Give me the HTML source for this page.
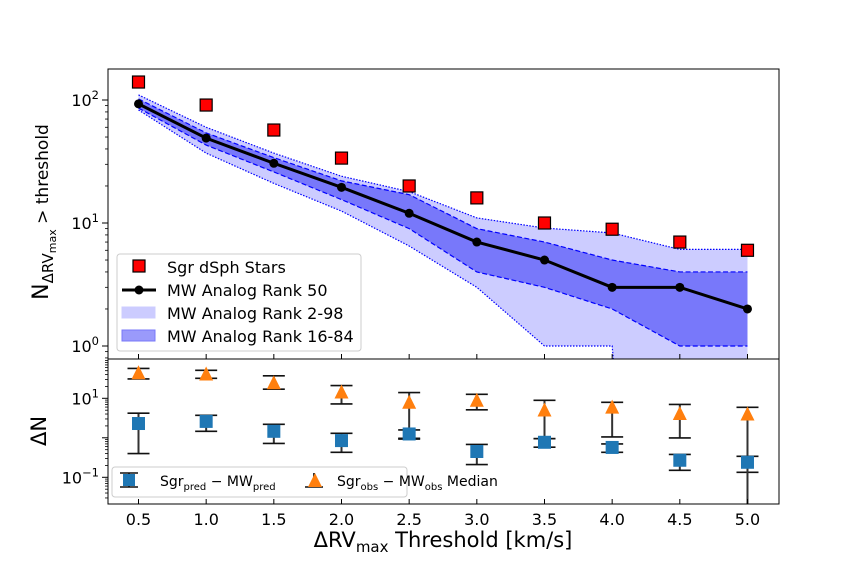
<!DOCTYPE html>
<html><head><meta charset="utf-8"><style>
html,body{margin:0;padding:0;background:#fff;width:864px;height:576px;overflow:hidden}
svg{display:block;font-family:"DejaVu Sans","Liberation Sans",sans-serif}
</style></head><body>
<svg id="c" width="864" height="576" viewBox="0 0 864 576"></svg>
<script>
const xs=[0.5,1.0,1.5,2.0,2.5,3.0,3.5,4.0,4.5,5.0];
const sgrStars=[140,91,57,33.7,20,16,10,8.9,7,6];
const median=[93,49,30.6,19.5,12,7,5,3,3,2];
const r16=[86,43,26,15.5,9,4,3,2,1,1];
const r84=[102,54,34,22,17,9,7,5,4,4];
const r2=[83,37,21,12.5,6.5,3,1,1,0,0];
const r98=[110,60,37,24,18,11,9.1,8.3,6.1,6.1];
const predVal=[2.3,2.6,1.46,0.85,1.25,0.45,0.77,0.57,0.27,0.24];
const predLo=[0.40,1.46,0.72,0.43,0.93,0.21,0.58,0.43,0.15,0.134];
const predHi=[4.2,3.7,2.2,1.3,1.58,0.68,0.95,0.7,0.38,0.34];
const obsVal=[43,40,24,14,7.7,8.7,4.9,5.8,4,3.9];
const obsLo=[31,32,17,7.2,0.97,5.1,0.95,1.05,0.99,0.001];
const obsHi=[57,51,37,21,14,12.6,8.9,7.9,7.0,5.9];
const xTicks=[0.5,1.0,1.5,2.0,2.5,3.0,3.5,4.0,4.5,5.0];

const NS="http://www.w3.org/2000/svg";
const svg=document.getElementById('c');
const L=108,R=779,T1=69,B1=359,B2=504;
const X=v=>138.5+(v-0.5)*135.33;
const Y1=v=>346-123*Math.log10(Math.max(v,1e-6));
const Y2=v=>437.8-39.5*Math.log10(Math.max(v,1e-6));
function el(tag,attrs,parent){const e=document.createElementNS(NS,tag);for(const k in attrs)e.setAttribute(k,attrs[k]);(parent||svg).appendChild(e);return e;}
const defs=el('defs',{});
const cp1=el('clipPath',{id:'cp1'},defs);el('rect',{x:L,y:T1,width:R-L,height:B1-T1},cp1);
const cp2=el('clipPath',{id:'cp2'},defs);el('rect',{x:L,y:B1,width:R-L,height:B2-B1},cp2);

const g1=el('g',{'clip-path':'url(#cp1)'});


function band(lo,hi,fill,dash,name){
  let pts=xs.map((x,i)=>X(x)+','+Y1(hi[i])).concat(xs.slice().reverse().map((x,j)=>{const i=xs.length-1-j;return X(x)+','+Y1(lo[i]);}));
  const p=el('polygon',{points:pts.join(' '),fill:fill,stroke:'none'},g1);
  
  
  [lo,hi].forEach(a=>{const l=el('polyline',{points:xs.map((x,i)=>X(x)+','+Y1(a[i])).join(' '),fill:'none',stroke:'#0000ff','stroke-width':1.2,'stroke-dasharray':dash},g1);
  
  });
}
band(r2,r98,'#ccccff','1.5 1.5','band-2-98');
band(r16,r84,'#7878fa','5 2.5','band-16-84');
const ml=el('polyline',{points:xs.map((x,i)=>X(x)+','+Y1(median[i])).join(' '),fill:'none',stroke:'#000','stroke-width':3},g1);


xs.forEach((x,i)=>{const c=el('circle',{cx:X(x),cy:Y1(median[i]),r:4.5,fill:'#000'},g1);

});
xs.forEach((x,i)=>{const r=el('rect',{x:X(x)-6,y:Y1(sgrStars[i])-6,width:12,height:12,fill:'#ff0000',stroke:'#000','stroke-width':1.2},g1);

});

const g2=el('g',{'clip-path':'url(#cp2)'});


function errbar(x,lo,hi){
  const cx=X(x);
  el('line',{x1:cx,x2:cx,y1:Y2(hi),y2:Y2(lo),stroke:'#333','stroke-width':2},g2);
  el('line',{x1:cx-11,x2:cx+11,y1:Y2(hi),y2:Y2(hi),stroke:'#111','stroke-width':1.6},g2);
  el('line',{x1:cx-11,x2:cx+11,y1:Y2(lo),y2:Y2(lo),stroke:'#111','stroke-width':1.6},g2);
}
xs.forEach((x,i)=>errbar(x,predLo[i],predHi[i]));
xs.forEach((x,i)=>errbar(x,obsLo[i],obsHi[i]));
xs.forEach((x,i)=>{const r=el('rect',{x:X(x)-6.5,y:Y2(predVal[i])-6.5,width:13,height:13,fill:'#1f77b4'},g2);

});
xs.forEach((x,i)=>{const cx=X(x),cy=Y2(obsVal[i]);const p=el('polygon',{points:`${cx},${cy-8} ${cx-7},${cy+6} ${cx+7},${cy+6}`,fill:'#ff7f0e'},g2);

});

el('rect',{x:L,y:T1,width:R-L,height:B1-T1,fill:'none',stroke:'#000','stroke-width':1});
el('rect',{x:L,y:B1,width:R-L,height:B2-B1,fill:'none',stroke:'#000','stroke-width':1});

xTicks.forEach(t=>{const x=X(t);
  el('line',{x1:x,x2:x,y1:B1,y2:B1-5,stroke:'#000'});
  el('line',{x1:x,x2:x,y1:B2,y2:B2-5,stroke:'#000'});
  const tx=el('text',{x:x,y:B2+21,'font-size':16,'text-anchor':'middle'});tx.textContent=t.toFixed(1);
  
  
});
function logTicks(Y,minE,maxE,top,bot,labels){
  for(let e=minE;e<=maxE;e++){for(let m=1;m<10;m++){const v=m*Math.pow(10,e);const y=Y(v);if(y<top-0.5||y>bot+0.5)continue;
    el('line',{x1:L,x2:L-(m==1?6:3),y1:y,y2:y,stroke:'#000','stroke-width':m==1?1:0.8});}}
  labels.forEach(e=>{const y=Y(Math.pow(10,e));const t=el('text',{x:L-9,y:y+6,'font-size':16,'text-anchor':'end'});
    t.innerHTML='10<tspan dy="-7" font-size="11.5">'+(e<0?'\u2212'+(-e):e)+'</tspan>';
    
    });
}
logTicks(Y1,-1,2,T1,B1,[0,1,2]);
logTicks(Y2,-2,1,B1,B2,[-1,1]);

const yl=el('text',{transform:'translate(48,212) rotate(-90)','font-size':22,'text-anchor':'middle'});
yl.innerHTML='N<tspan dy="5" font-size="15">\u0394RV</tspan><tspan dy="3" font-size="11">max</tspan><tspan dy="-8" font-size="17"> &gt; threshold</tspan>';


const yl2=el('text',{transform:'translate(46,431) rotate(-90)','font-size':21,'text-anchor':'middle'});yl2.textContent='\u0394N';


const xl=el('text',{x:443,y:547,'font-size':21,'text-anchor':'middle'});
xl.innerHTML='\u0394RV<tspan dy="5" font-size="15">max</tspan><tspan dy="-5"> Threshold [km/s]</tspan>';



const lg=el('g',{});


el('rect',{x:117,y:254,width:244,height:97,rx:3,fill:'#fff','fill-opacity':0.8,stroke:'#ccc'},lg);
el('rect',{x:133,y:260,width:12,height:12,fill:'#ff0000',stroke:'#000','stroke-width':1.2},lg);
el('line',{x1:122,x2:156,y1:290,y2:290,stroke:'#000','stroke-width':3},lg);
el('circle',{cx:139,cy:290,r:4.5,fill:'#000'},lg);
el('rect',{x:122,y:307,width:33,height:11,fill:'#ccccff',stroke:'#ccccff'},lg);
el('rect',{x:122,y:330,width:33,height:11,fill:'#9a9afb',stroke:'#7878fa'},lg);
[['Sgr dSph Stars',273],['MW Analog Rank 50',296],['MW Analog Rank 2-98',319],['MW Analog Rank 16-84',342]].forEach(([s,y])=>{
  const t=el('text',{x:167,y:y,'font-size':16},lg);t.textContent=s;
  
  });

const lg2=el('g',{});


el('rect',{x:112,y:467,width:295,height:30,rx:3,fill:'#fff','fill-opacity':0.8,stroke:'#ccc'},lg2);
el('line',{x1:129,x2:129,y1:473,y2:487,stroke:'#333','stroke-width':2},lg2);
el('line',{x1:120,x2:138,y1:473,y2:473,stroke:'#111','stroke-width':1.6},lg2);
el('line',{x1:120,x2:138,y1:487,y2:487,stroke:'#111','stroke-width':1.6},lg2);
el('rect',{x:123,y:474,width:12,height:12,fill:'#1f77b4'},lg2);
el('line',{x1:314,x2:314,y1:473,y2:487,stroke:'#333','stroke-width':2},lg2);
el('line',{x1:305,x2:323,y1:487,y2:487,stroke:'#111','stroke-width':1.6},lg2);
el('polygon',{points:'315,473 308,487 322,487',fill:'#ff7f0e'},lg2);
const t1=el('text',{x:160,y:486,'font-size':14},lg2);
t1.innerHTML='Sgr<tspan dy="4" font-size="10">pred</tspan><tspan dy="-4"> \u2212 MW</tspan><tspan dy="4" font-size="10">pred</tspan>';


const t2=el('text',{x:337,y:486,'font-size':14},lg2);
t2.innerHTML='Sgr<tspan dy="4" font-size="10">obs</tspan><tspan dy="-4"> \u2212 MW</tspan><tspan dy="4" font-size="10">obs</tspan><tspan dy="-4"> Median</tspan>';


</script>
</body></html>
